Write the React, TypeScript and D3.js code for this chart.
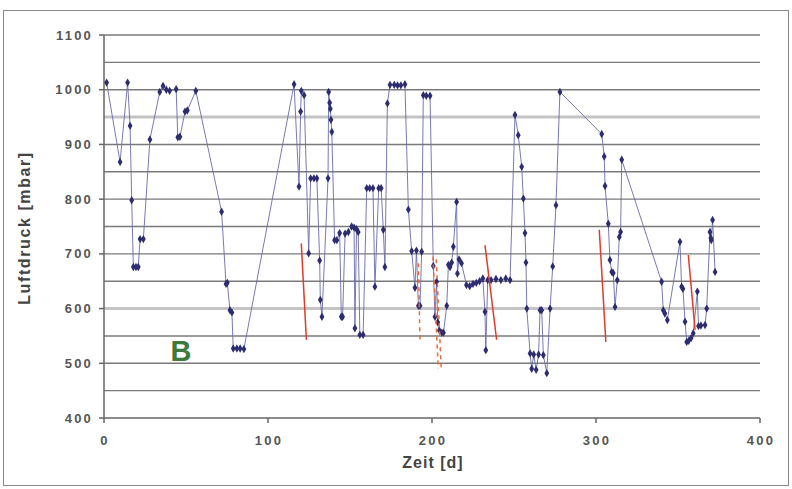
import React from 'react';
import * as d3 from 'd3';

// measured series: time [d] and air pressure [mbar]
const days = [
  1.6, 9.8, 14.4, 15.9, 16.9, 17.9, 19.5, 20.9, 22, 24, 28, 34, 36, 38, 40, 44, 45, 46.3, 49.4, 50.8,
  56, 71.7, 74.4, 75.2, 76.8, 78, 78.8, 81, 83, 85.3, 115.9, 118.9, 119.9, 120.3, 122, 124.8, 126, 128,
  129.8, 131.5, 131.9, 132.9, 136.6, 137, 137.6, 138, 138.4, 138.9, 140.6, 142, 143.7, 144.7, 145.5, 147,
  149, 151, 152.5, 153, 154, 155, 156, 158, 160.2, 162, 164, 165.2, 167.5, 169, 170.3, 171.3, 172.8,
  174.4, 177, 179, 181, 183.5, 185.6, 187.6, 189.6, 190.5, 191.7, 192.7, 193.7, 194.7, 196.5, 198.8,
  200.8, 201.8, 202.8, 203.5, 204.5, 206, 207, 209, 210, 211, 212, 213, 215, 215.5, 216.5, 218, 221,
  223, 225, 227, 229, 231, 232.3, 232.8, 234, 236, 239, 242, 245, 247.6, 250.6, 252.6, 254.7, 255.7,
  256.7, 257.3, 257.8, 259.8, 260.8, 262, 263.5, 265, 265.9, 266.9, 267.9, 270, 272, 273.6, 275.6, 278,
  303.5, 305, 305.5, 307.5, 308.5, 309.6, 310.5, 311.6, 313, 314.2, 315, 315.7, 340, 341, 342, 343.5,
  351.2, 352.2, 353, 354.3, 355.3, 356.5, 358, 359.3, 361.8, 362.5, 364, 366.5, 367.5, 369.5, 370,
  370.3, 371.1, 372.6,
];
const pressure = [
  1013, 868, 1013, 934, 798, 676, 676, 676, 727, 727, 909, 996, 1007, 1000, 998, 1001, 913, 914, 960, 962,
  998, 777, 645, 647, 597, 593, 527, 527, 527, 526, 1010, 823, 960, 998, 990, 701, 838, 838,
  838, 688, 616, 585, 838, 996, 976, 965, 945, 923, 725, 725, 738, 585, 585, 737,
  740, 750, 748, 564, 745, 740, 552, 552, 820, 820, 820, 640, 820, 820, 744, 676, 975,
  1009, 1009, 1008, 1008, 1010, 781, 705, 638, 706, 605, 605, 704, 990, 989, 989,
  678, 585, 649, 575, 560, 556, 556, 605, 680, 676, 684, 713, 795, 664, 690, 683, 643,
  641, 645, 647, 650, 655, 594, 524, 652, 652, 654, 652, 655, 652, 954, 917, 859, 801,
  738, 684, 600, 518, 490, 516, 488, 516, 597, 597, 515, 482, 600, 677, 789, 996,
  919, 878, 824, 755, 689, 667, 665, 603, 652, 731, 740, 872, 649, 597, 591, 579,
  722, 640, 636, 576, 539, 541, 546, 555, 631, 568, 569, 570, 600, 740, 729,
  725, 762, 667,
];

// red marker strokes: [day, mbar] start / end
const redStart = [[120.3, 719], [232.3, 716], [302, 744], [356.3, 698]];
const redEnd = [[123.4, 543], [239.4, 543], [306, 539], [360.4, 561]];
const dashStart = [[191.7, 683], [200.6, 695], [202.6, 690]];
const dashEnd = [[192.7, 537], [203.8, 490], [205.6, 492]];

const gridValues = [450, 500, 550, 600, 650, 700, 750, 800, 850, 900, 950, 1000, 1050, 1100];
const lightGrid = [600, 950];

export default function App() {
  const W = 792;
  const H = 489;
  const x = d3.scaleLinear().domain([0, 400]).range([104, 760]);
  const y = d3.scaleLinear().domain([400, 1100]).range([418, 35]);

  const pts: [number, number][] = days.map((d, i) => [d, pressure[i]]);
  const line = d3.line<[number, number]>().x(d => x(d[0])).y(d => y(d[1]));
  const marker = d3.symbol().type(d3.symbolDiamond).size(20)();

  const font = "'Liberation Sans', Arial, sans-serif";

  return (
    <div>
      <style>{`body{margin:0}`}</style>
      <svg width={W} height={H} style={{ display: 'block', background: '#fff' }}>
        <rect x={3.5} y={10.5} width={785} height={475} fill="#fff" stroke="#8a8a8a" />

        {gridValues.map(v => (
          <line key={v} x1={x(0)} x2={x(400)} y1={y(v)} y2={y(v)}
            stroke={lightGrid.includes(v) ? '#c4c4c4' : '#7a7a7a'}
            strokeWidth={lightGrid.includes(v) ? 3 : 1.4} />
        ))}

        {/* axes */}
        <line x1={x(0)} x2={x(400)} y1={y(400)} y2={y(400)} stroke="#666" strokeWidth={1.5} />
        <line x1={x(0)} x2={x(0)} y1={y(400)} y2={y(1100)} stroke="#666" strokeWidth={1.5} />
        {y.ticks(7).map(t => (
          <g key={t}>
            <line x1={x(0) - 5} x2={x(0)} y1={y(t)} y2={y(t)} stroke="#666" strokeWidth={1.5} />
            <text x={93} y={y(t)} dy="0.35em" textAnchor="end" fontFamily={font} fontSize={13}
              fontWeight="bold" letterSpacing={2.2} fill="#555">{t}</text>
          </g>
        ))}
        {x.ticks(4).map(t => (
          <g key={t}>
            <line x1={x(t)} x2={x(t)} y1={y(400)} y2={y(400) + 5} stroke="#666" strokeWidth={1.5} />
            <text x={x(t) + 1} y={445} textAnchor="middle" fontFamily={font} fontSize={13}
              fontWeight="bold" letterSpacing={2.2} fill="#555">{t}</text>
          </g>
        ))}
        <text x={433} y={468} textAnchor="middle" fontFamily={font} fontSize={16}
          fontWeight="bold" letterSpacing={1} fill="#444">Zeit [d]</text>
        <text transform="translate(30,228) rotate(-90)" textAnchor="middle" fontFamily={font}
          fontSize={16} fontWeight="bold" letterSpacing={1.6} fill="#444">Luftdruck [mbar]</text>

        {/* series */}
        <path d={line(pts) || ''} fill="none" stroke="#6a6aaa" strokeWidth={0.9} />
        {pts.map((p, i) => (
          <path key={i} d={marker || ''} transform={`translate(${x(p[0])},${y(p[1])})`} fill="#2c2c6e" />
        ))}

        {redStart.map((s, i) => (
          <line key={'r' + i} x1={x(s[0])} y1={y(s[1])} x2={x(redEnd[i][0])} y2={y(redEnd[i][1])}
            stroke="#e03a2a" strokeWidth={1.5} />
        ))}
        {dashStart.map((s, i) => (
          <line key={'d' + i} x1={x(s[0])} y1={y(s[1])} x2={x(dashEnd[i][0])} y2={y(dashEnd[i][1])}
            stroke="#ea6a3a" strokeWidth={1.5} strokeDasharray="4,4" />
        ))}

        <text x={181} y={361} textAnchor="middle" fontFamily={font} fontSize={29}
          fontWeight="bold" fill="#3d7b3d">B</text>
      </svg>
    </div>
  );
}
